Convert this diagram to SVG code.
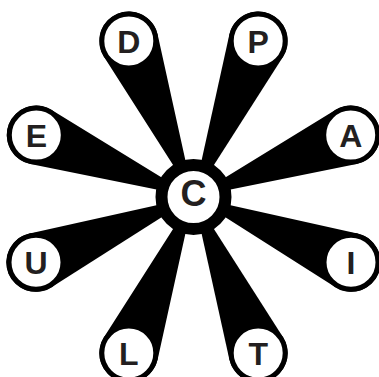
<svg xmlns="http://www.w3.org/2000/svg" xmlns:xlink="http://www.w3.org/1999/xlink" width="379" height="377" viewBox="0 0 379 377">
<style>
.node circle{fill:#fff;stroke:#000;stroke-width:5}
.lbl{font-family:"Liberation Sans",Arial,sans-serif;font-weight:bold;font-size:32px;fill:#231f20;text-anchor:middle}
.hub circle{fill:#fff;stroke:#000;stroke-width:12}
.hub text{font-size:36px}
</style>
<defs>
<path id="wedge" d="M0,0 L163.85,-29.05 A29.5,29.5 0 1 1 163.85,29.05 Z" fill="#000"/>
</defs>
<rect width="379" height="377" fill="#fff"/>
<g id="connectors">
<use xlink:href="#wedge" transform="translate(193.5,197) rotate(-112.5)"/>
<use xlink:href="#wedge" transform="translate(193.5,197) rotate(-67.5)"/>
<use xlink:href="#wedge" transform="translate(193.5,197) rotate(-21.5)"/>
<use xlink:href="#wedge" transform="translate(193.5,197) rotate(22.5) scale(1.009,1)"/>
<use xlink:href="#wedge" transform="translate(193.5,197) rotate(67.5)"/>
<use xlink:href="#wedge" transform="translate(193.5,197) rotate(112.5)"/>
<use xlink:href="#wedge" transform="translate(193.5,197) rotate(157.5) scale(1.009,1)"/>
<use xlink:href="#wedge" transform="translate(193.5,197) rotate(-158.5)"/>
</g>
<g id="node-C" class="hub"><circle cx="193.5" cy="197" r="32"/><text class="lbl" x="193.5" y="206">C</text></g>
<g id="node-D" class="node"><circle cx="128.8" cy="40.9" r="27"/><text class="lbl" x="128.8" y="52.5">D</text></g>
<g id="node-P" class="node"><circle cx="258.2" cy="40.9" r="27"/><text class="lbl" x="258.2" y="52.5">P</text></g>
<g id="node-A" class="node"><circle cx="350.7" cy="135.1" r="27"/><text class="lbl" x="350.7" y="146.6">A</text></g>
<g id="node-I" class="node"><circle cx="351" cy="262.3" r="27"/><text class="lbl" x="351" y="273.8">I</text></g>
<g id="node-T" class="node"><circle cx="258.2" cy="353.1" r="27"/><text class="lbl" x="258.2" y="364.6">T</text></g>
<g id="node-L" class="node"><circle cx="128.8" cy="353.1" r="27"/><text class="lbl" x="128.8" y="364.6">L</text></g>
<g id="node-U" class="node"><circle cx="36" cy="262.3" r="27"/><text class="lbl" x="36" y="273.8">U</text></g>
<g id="node-E" class="node"><circle cx="36.3" cy="135.1" r="27"/><text class="lbl" x="36.3" y="146.6">E</text></g>
</svg>
